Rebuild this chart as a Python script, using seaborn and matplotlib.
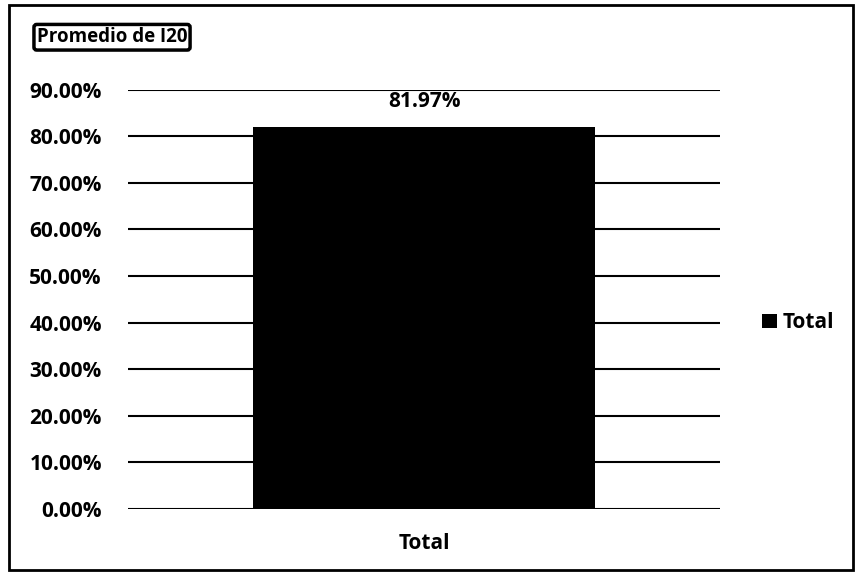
import matplotlib
matplotlib.use('agg')
import matplotlib.pyplot as plt
import numpy as np
import pandas as pd
import seaborn as sns
from matplotlib.patches import Rectangle

categories = ['Total']
values = [0.8197]
series_name = 'Total'
field_label = 'Promedio de I20'
y_ticks = [0.0, 0.1, 0.2, 0.3, 0.4, 0.5, 0.6, 0.7, 0.8, 0.9]

df = pd.DataFrame({'category': categories, 'value': values})

sns.set_theme(style='white')
plt.rcParams['font.family'] = ['Open Sans', 'DejaVu Sans']
plt.rcParams['text.color'] = 'black'
plt.rcParams['xtick.color'] = 'black'
plt.rcParams['ytick.color'] = 'black'

fig = plt.figure(figsize=(8.55, 5.73), dpi=100)
ax = fig.add_axes([0.150, 0.1117, 0.692, 0.732])

sns.barplot(data=df, x='category', y='value', color='black', width=0.578,
            saturation=1, linewidth=0, ax=ax, label=series_name)

ax.set_ylim(0, 0.9)
ax.set_yticks(y_ticks)
ax.set_yticklabels([f'{v * 100:.2f}%' for v in y_ticks], fontsize=15, fontweight='bold')
ax.set_xticks([0])
ax.set_xticklabels(categories, fontsize=15, fontweight='bold')
ax.tick_params(axis='y', length=0, pad=19, labelcolor='black')
ax.tick_params(axis='x', length=0, pad=17, labelcolor='black')
ax.set_xlabel('')
ax.set_ylabel('')
for v in y_ticks:
    ax.axhline(v, color='black', lw=1.5, zorder=0)
for s in ax.spines.values():
    s.set_visible(False)

# data label above the bar
for p, v in zip(ax.patches, values):
    ax.annotate(f'{v * 100:.2f}%', (p.get_x() + p.get_width() / 2, v),
                xytext=(0, 18), textcoords='offset points', ha='center', va='center',
                fontsize=15, fontweight='bold', color='black')

leg = ax.legend(loc='center left', bbox_to_anchor=(1.071, 0.444), frameon=False,
                borderpad=0, borderaxespad=0,
                handlelength=0.7, handleheight=0.7, handletextpad=0.3,
                prop={'size': 15, 'weight': 'bold'})
for t in leg.get_texts():
    t.set_color('black')

fig.text(0.043, 0.935, field_label, fontsize=13.5, fontweight='bold', va='center',
         color='black',
         bbox=dict(boxstyle='round,pad=0.15', fc='white', ec='black', lw=2.5))

# outer chart border
fig.patches.append(Rectangle((0.011, 0.006), 0.987, 0.985, transform=fig.transFigure,
                             fill=False, ec='black', lw=2))

fig.savefig('out.png', dpi=100)
